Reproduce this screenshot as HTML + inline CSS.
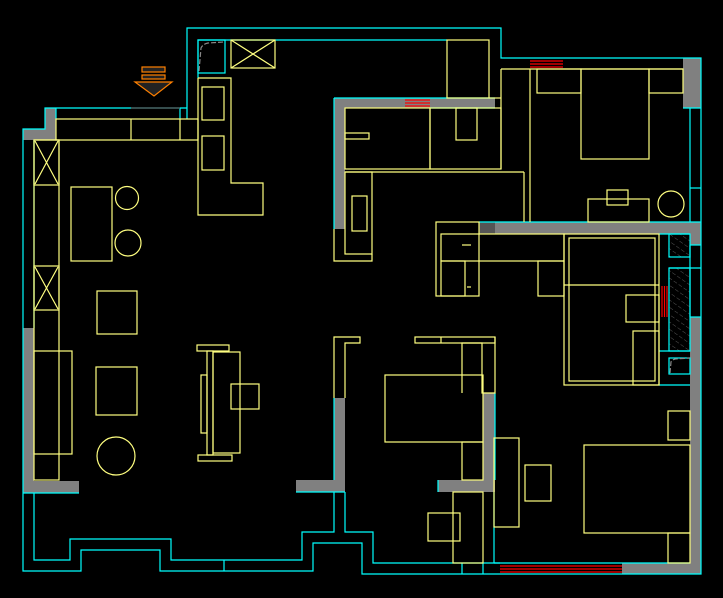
<!DOCTYPE html>
<html><head><meta charset="utf-8"><style>html,body{margin:0;padding:0;background:#000}svg{display:block}</style></head>
<body>
<svg width="723" height="598" viewBox="0 0 723 598" xmlns="http://www.w3.org/2000/svg">
<rect width="723" height="598" fill="#000"/>
<defs>
<pattern id="h" width="6" height="6" patternUnits="userSpaceOnUse" patternTransform="rotate(-55)"><line x1="0" y1="0" x2="0" y2="6" stroke="#555" stroke-width="1" stroke-dasharray="3,2"/></pattern>
</defs>
<!-- gray walls -->
<g fill="#808080">
<polygon points="45,108 56,108 56,140 34,140 34,129 23,129 23,140 45,140"/>
<rect x="23" y="129" width="33" height="11"/>
<rect x="45" y="108" width="11" height="32"/>
<rect x="23" y="328" width="11" height="165"/>
<rect x="23" y="481" width="56" height="12"/>
<rect x="683" y="58" width="18" height="50"/>
<rect x="479" y="222" width="222" height="12"/>
<rect x="690" y="222" width="11" height="23"/>
<rect x="690" y="317" width="11" height="257"/>
<rect x="622" y="563" width="79" height="11"/>
<rect x="334" y="98" width="11" height="131"/>
<rect x="334" y="98" width="161" height="10"/>
<rect x="334" y="398" width="11" height="94"/>
<rect x="296" y="480" width="49" height="12"/>
<rect x="483" y="393" width="12" height="99"/>
<rect x="438" y="480" width="57" height="12"/>
</g>
<rect x="479" y="222" width="16" height="12" fill="#555"/>
<rect x="669" y="234" width="21" height="23" fill="url(#h)"/>
<rect x="669" y="268" width="21" height="83" fill="url(#h)"/>
<!-- red windows -->
<g stroke="#ff0000" stroke-width="1.2">
<line x1="530" y1="61" x2="563" y2="61"/><line x1="530" y1="64" x2="563" y2="64"/><line x1="530" y1="67" x2="563" y2="67"/>
<line x1="405" y1="100" x2="430" y2="100"/><line x1="405" y1="103" x2="430" y2="103"/><line x1="405" y1="106" x2="430" y2="106"/>
<line x1="500" y1="566" x2="622" y2="566"/><line x1="500" y1="569" x2="622" y2="569"/><line x1="500" y1="572" x2="622" y2="572"/>
<line x1="662" y1="286" x2="662" y2="317"/><line x1="664.5" y1="286" x2="664.5" y2="317"/><line x1="667" y1="286" x2="667" y2="317"/>
</g>
<!-- cyan lines -->
<g fill="none" stroke="#00ffff" stroke-width="1.2">
<polyline points="187,119 187,28 501,28 501,58 701,58 701,574 362,574 362,543 313,543 313,571 160,571 160,550 81,550 81,571 23,571 23,129 45,129 45,108 187,108"/>
<polyline points="198,78 198,40 447,40"/>
<rect x="198" y="40" width="27" height="33"/>
<line x1="34" y1="140" x2="34" y2="328"/>
<line x1="56" y1="108" x2="56" y2="119"/><line x1="180" y1="108" x2="180" y2="119"/>
<polyline points="34,493 34,560 70,560 70,539 171,539 171,560 302,560 302,532 334,532 334,492"/>
<polyline points="345,492 345,532 373,532 373,563 500,563"/>
<line x1="224" y1="560" x2="224" y2="571"/>
<line x1="23" y1="493" x2="79" y2="493"/>
<line x1="296" y1="492" x2="345" y2="492"/>
<line x1="334" y1="98" x2="495" y2="98"/><line x1="334" y1="98" x2="334" y2="229"/><line x1="430" y1="108" x2="495" y2="108"/>
<line x1="690" y1="108" x2="690" y2="222"/><line x1="683" y1="108" x2="701" y2="108"/>
<line x1="690" y1="188" x2="701" y2="188"/>
<line x1="479" y1="222" x2="701" y2="222"/>
<line x1="659" y1="234" x2="690" y2="234"/>
<rect x="669" y="234" width="21" height="23"/><rect x="669" y="268" width="21" height="83"/>
<line x1="690" y1="245" x2="701" y2="245"/><line x1="690" y1="245" x2="690" y2="317"/><line x1="669" y1="268" x2="701" y2="268"/>
<line x1="690" y1="317" x2="701" y2="317"/>
<line x1="659" y1="351" x2="690" y2="351"/><line x1="659" y1="385" x2="690" y2="385"/>
<rect x="669" y="358" width="21" height="16"/>
<line x1="494" y1="492" x2="494" y2="563"/><line x1="494" y1="563" x2="690" y2="563"/>
<line x1="462" y1="563" x2="462" y2="574"/><line x1="483" y1="563" x2="483" y2="574"/>
<line x1="334" y1="398" x2="334" y2="480"/><line x1="495" y1="393" x2="495" y2="480"/>
<line x1="438" y1="480" x2="438" y2="492"/>
</g>
<line x1="131" y1="108" x2="180" y2="108" stroke="#555" stroke-width="1.2"/>
<path d="M199 71 L201 48 Q203 44 208 43 L224 42" stroke="#888" fill="none" stroke-width="1.2" stroke-dasharray="5,2"/>
<path d="M670 373 L671 362 Q672 360 675 359 L690 358" stroke="#888" fill="none" stroke-width="1.2" stroke-dasharray="5,2"/>
<!-- yellow -->
<g fill="none" stroke="#ffff80" stroke-width="1.2">
<rect x="56" y="119" width="142" height="21"/>
<line x1="131" y1="119" x2="131" y2="140"/><line x1="180" y1="119" x2="180" y2="140"/>
<rect x="34" y="140" width="25" height="340"/>
<rect x="34" y="140" width="25" height="45"/><path d="M35 141 L58 184 M58 141 L35 184"/>
<rect x="34" y="266" width="25" height="44"/><path d="M35 267 L58 309 M58 267 L35 309"/>
<rect x="34" y="351" width="38" height="103"/>
<rect x="71" y="187" width="41" height="74"/>
<circle cx="127" cy="198" r="11.5"/><circle cx="128" cy="243" r="13"/>
<rect x="97" y="291" width="40" height="43"/>
<rect x="96" y="367" width="41" height="48"/>
<circle cx="116" cy="456" r="19"/>
<rect x="197" y="345" width="32" height="6"/>
<rect x="207" y="351" width="6" height="104"/>
<rect x="213" y="352" width="27" height="101"/>
<rect x="201" y="375" width="6" height="58"/>
<rect x="198" y="455" width="34" height="6"/>
<rect x="231" y="384" width="28" height="25"/>
<polyline points="198,78 231,78 231,183 263,183 263,215 198,215 198,78"/>
<rect x="202" y="87" width="22" height="33"/><rect x="202" y="136" width="22" height="34"/>
<rect x="231" y="40" width="44" height="28"/><path d="M231 40 L275 68 M275 40 L231 68"/>
<rect x="447" y="40" width="42" height="58"/>
<line x1="489" y1="98" x2="501" y2="98"/>
<line x1="501" y1="69" x2="683" y2="69"/>
<line x1="501" y1="69" x2="501" y2="169"/>
<line x1="530" y1="69" x2="530" y2="222"/>
<rect x="537" y="69" width="44" height="24"/>
<rect x="581" y="69" width="68" height="90"/>
<rect x="649" y="69" width="34" height="24"/>
<rect x="588" y="199" width="61" height="23"/><rect x="607" y="190" width="21" height="15"/>
<circle cx="671" cy="204" r="13"/>
<rect x="345" y="108" width="85" height="61"/>
<rect x="430" y="108" width="71" height="61"/>
<rect x="456" y="108" width="21" height="32"/>
<rect x="345" y="133" width="24" height="6"/>
<line x1="345" y1="172" x2="524" y2="172"/>
<line x1="524" y1="172" x2="524" y2="222"/>
<rect x="345" y="172" width="27" height="82"/>
<rect x="352" y="196" width="15" height="35"/>
<polyline points="334,229 334,261 372,261 372,254"/>
<rect x="436" y="222" width="43" height="74"/>
<rect x="441" y="234" width="123" height="27"/>
<rect x="441" y="261" width="24" height="35"/>
<rect x="538" y="261" width="26" height="35"/>
<line x1="462" y1="245" x2="471" y2="245"/><line x1="467" y1="287" x2="471" y2="287"/>
<rect x="564" y="234" width="95" height="151"/>
<rect x="569" y="238" width="86" height="143"/>
<line x1="564" y1="285" x2="659" y2="285"/>
<rect x="626" y="295" width="33" height="27"/>
<rect x="633" y="331" width="26" height="54"/>
<polyline points="334,398 334,337 360,337 360,343 345,343 345,398"/>
<rect x="415" y="337" width="80" height="6"/>
<line x1="441" y1="337" x2="441" y2="343"/>
<polyline points="462,393 462,343 482,343 482,393 495,393 495,337"/>
<rect x="385" y="375" width="98" height="67"/>
<rect x="462" y="442" width="21" height="38"/>
<rect x="453" y="492" width="30" height="71"/>
<rect x="428" y="513" width="32" height="28"/>
<rect x="494" y="438" width="25" height="89"/>
<rect x="525" y="465" width="26" height="36"/>
<rect x="584" y="445" width="106" height="88"/>
<rect x="668" y="411" width="22" height="29"/>
<rect x="668" y="533" width="22" height="30"/>
</g>
<!-- arrow -->
<g stroke="#ff8000" stroke-width="1.2" fill="#222">
<rect x="142" y="67" width="23" height="5"/>
<rect x="142" y="75" width="23" height="4"/>
<polygon points="135,82 172,82 154,96"/>
</g>
</svg>
</body></html>
